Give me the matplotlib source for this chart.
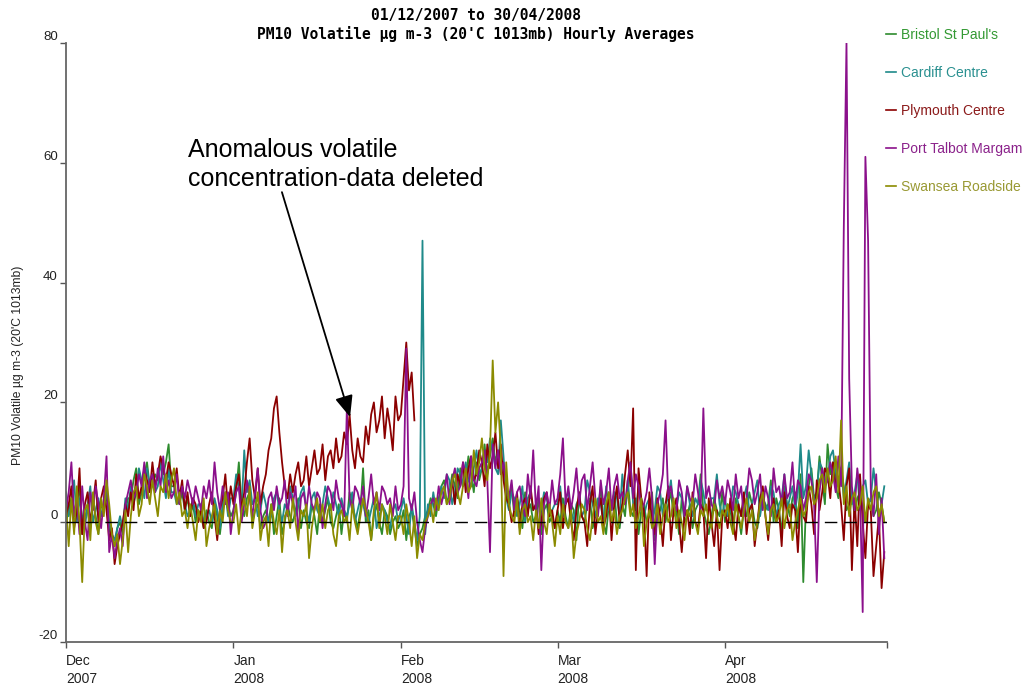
import numpy as np
import pandas as pd
import matplotlib
matplotlib.use("Agg")
import matplotlib.pyplot as plt

# 12-hourly readings (Dec 2007 - Apr 2008), µg m-3
nan = np.nan

bristol = [
    # Dec
    0, 2, 4, 1, 3, 6, -2, 1, 2, -1, 4, 1, -2, 3, 2, 5, -1, -3, -4, -1, 0, -2, 2, 4, 4, 7, 9, 3, 5, 8, 10, 6,
    6, 8, 7, 10, 8, 10, 13, 6, 6, 4, 3, 5, 2, 4, 1, 3, 0, 2, 1, -1, 2, 0, -1, 3, 1, -2, 2, 4, 3, 1,
    # Jan
    2, 5, 10, 3, 1, 4, 5, 0, 2, 3, -1, 1, 2, 0, 3, -2, 1, 4, -2, 0, 3, 1, 0, 2, 4, -1, 2, 0, -1, 3, 1, -2,
    3, 0, 2, 4, 0, -1, 1, 3, -2, 2, 0, 5, 3, 1, -1, 2, 9, 0, 2, -3, 1, 3, 0, -2, 2, 1, -2, 0, 1, -1,
    # Feb
    0, 2, -3, 1, 2, -1, -4, -2, -1, 1, 2, 4, 3, 1, 4, 6, 7, 3, 5, 8, 6, 4, 9, 6, 7, 11, 8, 5, 10, 7,
    9, 13, 8, 11, 14, 10, 12, 8, 9, 5, 3, 6, 1, 4, 2, -1, 5, 2, 3, 0, 1, 4, -2, 2, 3, 0, 1, -1,
    # Mar
    2, 0, 4, 1, -1, 3, 2, -3, 5, 1, 0, 3, 4, -1, 1, 2, 6, 0, -2, 3, 2, 5, 0, -1, 3, 1, 7, 2, 1, 4, -2, 2,
    3, 0, 1, 5, -3, 1, 2, 4, 0, 3, 5, 1, 2, -2, 4, 0, 1, 3, -1, 2, 3, 8, 2, 0, -2, 1, 4, 2, 1, 5,
    # Apr
    0, 3, 2, -1, 4, 1, -2, 2, 1, 5, 3, 0, -1, 2, 5, 2, 3, 7, 0, 4, 2, -2, 6, 3, 1, 4, 5, -1, 8, -10,
    3, 6, 9, 4, 5, 11, 7, 3, 13, 8, 10, 6, 4, 9, 6, 2, 3, 5, 1, 4, 5, 2, 0, 3, 4, 1, 2, 5, 3, 0,
]

cardiff = [
    # Dec
    5, 1, 3, 7, 0, 4, 1, -1, 3, 6, 0, 2, 4, 1, 3, 6, 0, -2, -3, -1, 1, -1, 4, 2, 6, 3, 5, 9, 7, 4, 9, 6,
    8, 5, 6, 10, 7, 4, 9, 5, 5, 3, 4, 6, 3, 1, 2, 4, 1, 3, 3, 0, 1, 2, 0, 4, 2, -1, 3, 5, 1, 4,
    # Jan
    4, 8, 6, 2, 12, 5, 7, 3, 4, 1, 2, 5, 3, 0, 1, 4, 5, 2, 0, 3, 2, 6, 4, 1, 3, 5, 6, 2, 0, 4, 5, 2,
    1, 3, 6, 4, 2, 5, 3, 1, 4, 2, 1, 3, 5, 0, 2, 4, 3, 1, 0, 2, 4, -1, 1, 3, 2, 0, -1, 2, 3, 0,
    # Feb
    2, 4, 1, -2, 3, 0, -3, 1, 47, -2, 3, 1, 5, 2, 3, 6, 4, 8, 7, 3, 5, 9, 8, 6, 10, 7, 6, 9, 12, 8,
    9, 11, 10, 14, 12, 9, 8, 17, 11, 4, 2, 5, 4, 1, 3, 6, 0, 4, 5, 2, 3, -1, 2, 5, 4, 1, 2, 3,
    # Mar
    3, 6, 1, 4, 5, 2, 0, 3, 4, 1, 2, 7, 5, 3, 1, 4, 3, 0, 6, 2, 2, 5, 4, 1, 8, 3, 5, 10, 3, 2, 6, 4,
    1, 3, 4, 0, 2, 6, 5, 1, 3, 4, 7, 2, 2, 5, 4, 1, 6, 3, 1, 4, 3, 7, 5, 2, 2, 4, 4, 8, 3, 1,
    # Apr
    4, 1, 2, 6, 5, 3, 1, 4, 6, 2, 3, 5, 7, 1, 4, 3, 2, 6, 5, 1, 3, 4, 8, 2, 4, 6, 2, 5, 13, 4,
    6, 12, 8, 3, 5, 10, 9, 6, 7, 11, 12, 8, 6, 9, 4, 7, 10, 3, 5, 8, 2, 6, 7, 3, 4, 9, 5, 1, 3, 6,
]

plymouth = [
    # Dec
    1, 3, 6, -1, 2, 9, -2, 3, 5, 0, 3, 7, 0, 4, 6, 2, -3, -1, -7, -4, -2, 0, 3, 1, 5, 2, 8, 4, 6, 9, 7, 5,
    10, 6, 8, 11, 9, 7, 10, 8, 6, 9, 4, 7, 2, 5, 1, 4, 3, 0, 2, -1, 0, 3, 5, 1, -3, 2, 4, 8, 2, 6,
    # Jan
    3, 6, 8, 2, 5, 10, 14, 7, 4, 9, 3, 6, 8, 12, 14, 19, 21, 15, 10, 6, 4, 8, 5, 8, 10, 6, 7, 11, 6, 9, 12, 8,
    9, 13, 7, 11, 12, 9, 14, 10, 11, 15, 13, 18, 12, 9, 14, 11, 10, 16, 13, 18, 20, 15, 17, 21, 14, 19, 16, 12, 21, 17,
    # Feb (anomalous data deleted 3-8 Feb)
    18, 24, 30, 22, 25, 17, nan, nan, nan, nan, nan, nan, nan, nan, nan, nan, nan, nan,
    4, 7, 3, 8, 6, 10, 5, 9, 11, 7, 8, 12, 10, 6, 13, 9, 11, 15, 9, 13,
    7, 4, 3, 0, 2, 5, -1, 3, 4, 1, 6, 2, 3, -2, 0, 4, 5, 1, 2, -1,
    # Mar
    2, 5, -1, 3, 4, 0, -3, 2, 5, 1, 0, -4, 3, 6, -2, 2, 4, -1, 1, 5, -3, 3, 6, 0, 3, 8, 12, 6, 19, -8, 9, 4,
    2, -9, 5, 0, -2, 4, 1, -4, 3, 6, -3, 2, 4, 0, -5, 1, 2, -2, 5, 0, -1, 3, 2, -6, 4, 0, -4, 2, -8, 1,
    # Apr
    2, -1, 4, 0, -3, 3, 1, 5, -2, 2, 3, -4, 0, 4, 6, 1, -3, 2, 4, 0, 2, -4, 5, 1, -1, 3, 2, -5, 4, 1,
    0, 6, 3, -2, 7, 2, 5, 9, 8, 4, 10, 6, 7, 3, -3, 6, 9, -8, 4, -4, 8, 0, -6, 3, 2, -9, -4, 1, -11, -5,
]

port_talbot = [
    # Dec
    2, 5, 10, 1, 4, -2, 6, 0, -3, 5, 2, 6, 3, -1, 4, 11, -5, -2, -6, -3, -1, -4, 3, 5, 7, 4, 5, 8, 6, 10, 4, 7,
    8, 5, 9, 6, 11, 5, 7, 4, 5, 8, 3, 6, 4, 7, 5, 3, 6, 4, 2, 6, 4, 7, 3, 10, 5, 2, 6, 3, 5, -2,
    # Jan
    2, 5, 6, 0, 3, 7, 4, 1, 5, 9, 2, -1, 0, 4, 5, 2, 6, 3, 4, 7, 1, 5, 3, 6, -2, 4, 5, 2, 6, 3, 2, 5,
    4, -1, 3, 6, 5, 2, 7, 4, 3, 1, 19, 4, 2, 6, 5, 3, 6, 1, 4, 8, 3, 5, 2, 6, 5, 3, 4, 1, 6, 2,
    # Feb
    3, 6, 29, 4, 2, 5, 0, -3, -5, -1, 1, 3, 4, 2, 6, 3, 5, 8, 3, 7, 9, 5, 6, 10, 8, 4, 11, 7, 6, 9,
    10, 12, 7, -5, 13, 9, 12, 8, 10, 6, 4, 7, 2, 5, 6, 3, 1, 8, 4, 12, 2, 6, -8, 3, 5, 2, 7, 3,
    # Mar
    4, 8, 14, 3, 6, 2, 5, 9, 3, 7, 8, 2, 6, 10, 4, 1, 7, 3, 5, 9, 2, 6, 8, 4, 5, 3, 7, 10, 4, 8, 6, 2,
    3, 5, 9, 4, -7, 3, 5, 8, 17, 4, 6, 3, 2, 7, 5, 1, 6, 4, 3, 8, 5, 2, 19, 4, 6, 3, 2, 7, 4, 6,
    # Apr
    3, 7, 5, 2, 8, 4, 6, 1, 4, 9, 7, 3, 5, 8, 2, 6, 4, 1, 9, 5, 6, 3, 8, 4, 5, 10, 3, 7, 6, 2,
    4, 8, 7, 3, -10, 5, 9, 6, 7, 10, 8, 5, 11, 6, 49, 80, 24, 6, 2, 9, 5, -15, 61, 47, 5, 1, 8, -2, 4, -6,
]

swansea = [
    # Dec
    3, -4, 4, -2, 6, 0, -10, 2, 3, -3, 5, 0, -2, 4, 1, 7, 3, -2, -4, -2, -7, -3, 2, -5, 1, 5, 6, 1, 3, 8, 6, 3,
    7, 4, 1, 6, 5, 8, 4, 7, 9, 3, 5, 1, 2, -1, 3, 0, -3, 2, 0, 4, -4, -1, 1, 3, -2, 2, 0, 5, 2, 0,
    # Jan
    0, 3, -2, 2, 4, 1, 6, -1, 2, 5, -3, 0, 1, -4, 3, 0, -2, 2, -5, 1, 2, -1, 4, 0, -3, 2, 1, 3, -6, -1, 2, 4,
    0, 3, -1, 2, 3, -2, -4, 1, 2, 0, 1, -3, 3, 0, -2, 1, 4, 2, 0, -3, 2, 5, -1, 3, 1, -2, 3, 0, -3, 1,
    # Feb
    1, -2, 3, 0, -4, 1, -6, -2, -3, 0, 1, 3, 0, 4, 2, 5, 6, 3, 4, 7, 8, 5, 3, 6, 9, 5, 6, 12, 8, 10,
    14, 9, 7, 12, 27, 15, 20, 12, -9, 10, 3, 1, 0, 4, -2, 2, 3, 0, 1, -3, 2, -1, 4, 0, -2, 3, 0, -4,
    # Mar
    1, -2, 3, 0, -1, 2, -6, -2, 0, 3, 2, -1, -3, 1, 4, 0, 1, -2, 3, 5, 0, 2, -2, 1, 2, 4, 5, 1, 3, -1, 1, 4,
    -4, 0, 2, -1, 0, 3, -2, 1, 3, 0, 1, 4, -1, 2, 0, -3, 2, 1, 4, 0, -2, 2, 1, 3, 0, -1, 3, 1, -1, 2,
    # Apr
    1, 3, 0, -2, 3, 1, -1, 2, 4, 0, 2, -3, 0, 3, 5, 1, -2, 2, 3, 0, 1, 4, -1, 2, 3, -3, 0, 2, 4, 1,
    2, 5, 6, 3, 4, 7, 8, 5, 9, 6, 7, 11, 5, 17, 3, 6, 1, 4, 5, 2, 3, 6, 0, 4, 2, 5, 6, 1, 3, 0,
]

sites = ["Bristol St Paul's", "Cardiff Centre", "Plymouth Centre",
         "Port Talbot Margam", "Swansea Roadside"]
series = [bristol, cardiff, plymouth, port_talbot, swansea]
colors = ["#2e8b2e", "#1f8a8a", "#8b0000", "#8b108b", "#8b8b00"]
text_colors = ["#339933", "#2a9090", "#8b1a1a", "#8b228b", "#999933"]

times = pd.date_range("2007-12-01", periods=304, freq="12h")
for s in series:
    assert len(s) == len(times), len(s)

plt.rcParams["font.family"] = ["Liberation Sans", "DejaVu Sans"]

fig = plt.figure(figsize=(10.23, 6.87), dpi=100)
ax = fig.add_axes([66 / 1023, 1 - 642 / 687, 821 / 1023, 599 / 687])

lines = []
for name, vals, c in zip(sites, series, colors):
    ln, = ax.plot(times, vals, color=c, lw=1.3, label=name)
    lines.append(ln)

ax.axhline(0, color="black", lw=1.0, dashes=(9, 5), zorder=5)

ax.set_xlim(pd.Timestamp("2007-12-01"), pd.Timestamp("2008-05-01"))
ax.set_ylim(-20, 80)

month_ticks = pd.date_range("2007-12-01", "2008-05-01", freq="MS")
ax.set_xticks(month_ticks)
ax.set_xticklabels([f"{t:%b}\n{t:%Y}" if t.month != 5 else "" for t in month_ticks],
                   fontsize=10, color="#222222", linespacing=1.4)
for lab in ax.get_xticklabels():
    lab.set_horizontalalignment("left")

ax.set_yticks([-20, 0, 20, 40, 60, 80])
ax.set_yticklabels(["-20", "0", "20", "40", "60", "80"], fontsize=9.5, color="#222222")
for lab in ax.get_yticklabels():
    lab.set_verticalalignment("bottom")

ax.tick_params(axis="both", direction="out", length=4, width=1, color="#555555", pad=2)
ax.tick_params(axis="x", pad=4.5)
for side in ["top", "right"]:
    ax.spines[side].set_visible(False)
for side in ["left", "bottom"]:
    ax.spines[side].set_color("#666666")
    ax.spines[side].set_linewidth(1.3)

fig.text(18 / 1023, 1 - 365 / 687, "PM10 Volatile µg m-3 (20'C 1013mb)",
         rotation=90, ha="center", va="center", fontsize=8.7, color="#222222")

fig.text(476 / 1023, 1 - 25 / 687,
         "01/12/2007 to 30/04/2008\nPM10 Volatile µg m-3 (20'C 1013mb) Hourly Averages",
         ha="center", va="center", fontsize=10.5, fontweight="bold",
         family="DejaVu Sans Mono", linespacing=1.2)

leg = fig.legend(handles=lines, loc="upper left", bbox_to_anchor=(886 / 1023, 1 - 28 / 687),
                 frameon=False, fontsize=10, handlelength=0.75, handletextpad=0.3,
                 labelspacing=1.72, borderpad=0, borderaxespad=0)
for txt, c in zip(leg.get_texts(), text_colors):
    txt.set_color(c)
for h in leg.legend_handles:
    h.set_linewidth(1.2)

# annotation about the removed Plymouth data
ax.text(0.1486, 0.797, "Anomalous volatile\nconcentration-data deleted",
        transform=ax.transAxes, ha="left", va="center", fontsize=18, linespacing=1.3)
ax.annotate("", xy=(0.346, 0.3756), xytext=(0.263, 0.751),
            xycoords="axes fraction", textcoords="axes fraction",
            arrowprops=dict(arrowstyle="-|>,head_length=1.3,head_width=0.55",
                            color="black", lw=1.3, shrinkA=0, shrinkB=0))

fig.savefig("out.png", dpi=100)
